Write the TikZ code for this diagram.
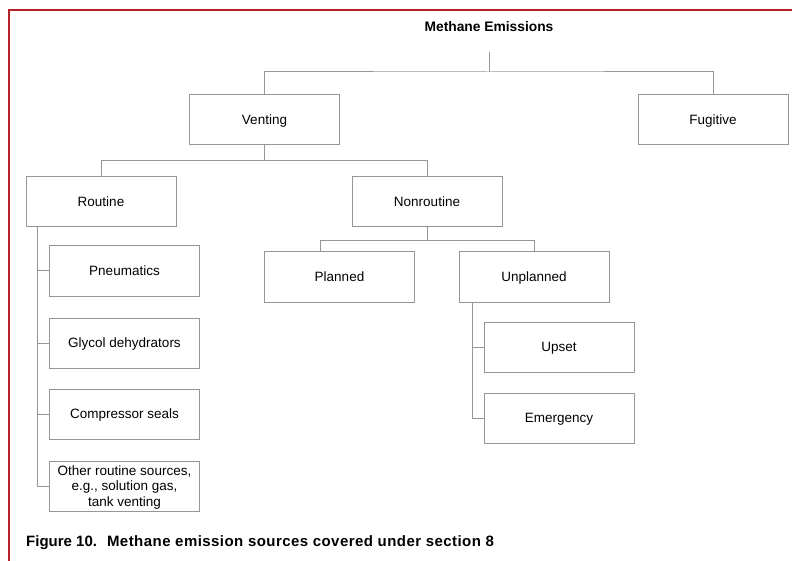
\documentclass[tikz,border=0pt]{standalone}
\usepackage{fontspec}
\setmainfont{Liberation Sans}
\newfontfamily\capfont[LetterSpace=3]{Liberation Sans}
\definecolor{framered}{RGB}{178,34,40}
\definecolor{boxgrey}{RGB}{150,150,150}

\tikzstyle{every node}=[font={\fontsize{13.5}{15.5}\selectfont}, inner sep=2pt]
\tikzstyle{box}=[draw=boxgrey, line width=1pt, minimum width=150pt, minimum height=50pt, align=center, text height=9.7pt, text depth=0pt]
\tikzstyle{tallbox}=[box, text height=, text depth=0pt]
\tikzstyle{link}=[draw=boxgrey, line width=1pt]
\tikzstyle{heading}=[font={\fontsize{13.8}{16}\selectfont\bfseries}]

\begin{document}
\begin{tikzpicture}[x=1pt, y=-1pt]
    \useasboundingbox (0,0) rectangle (792,561);
    \draw [framered, line width=2pt] (9,561) -- (9,10) -- (792,10);

    \node [heading] (ch4) at (489,27) {Methane Emissions};
    \coordinate (ch4b) at (489,52);

    \node [box] (venting) at (264.5,120) {Venting};
    \node [box] (fugitive) at (713,120) {Fugitive};
    \node [box] (routine) at (101,202) {Routine};
    \node [box] (nonroutine) at (427,202) {Nonroutine};
    \node [box] (planned) at (339.5,277) {Planned};
    \node [box] (unplanned) at (534,277) {Unplanned};

    \node [box] (pneumatics) at (124.5,271) {Pneumatics};
    \node [box] (glycol) at (124.5,343) {Glycol dehydrators};
    \node [box] (compressor) at (124.5,414) {Compressor seals};
    \node [tallbox] (other) at (124.5,486) {Other routine sources,\\e.g., solution gas,\\tank venting};

    \node [box] (upset) at (559,347) {Upset};
    \node [box] (emergency) at (559,418) {Emergency};

    % top level
    \draw [link] (ch4b) -- ++(0,20) coordinate (j0);
    \draw [link] (venting.north) |- (j0) -| (fugitive.north);

    % venting
    \draw [link] (venting.south) -- ++(0,15) coordinate (j1);
    \draw [link] (routine.north) |- (j1) -| (nonroutine.north);

    % nonroutine
    \draw [link] (nonroutine.south) -- ++(0,13) coordinate (j2);
    \draw [link] ([xshift=-19.5pt]planned.north) |- (j2) -| (unplanned.north);

    % routine sources
    \coordinate (rt) at ([xshift=12pt]routine.south west);
    \draw [link] (rt) |- (other.west);
    \foreach \n in {pneumatics,glycol,compressor}
        \draw [link] (\n.west) -- (\n.west -| rt);

    % unplanned
    \coordinate (ut) at ([xshift=14pt]unplanned.south west);
    \draw [link] (ut) |- (emergency.west);
    \draw [link] (upset.west) -- (upset.west -| ut);

    \node [heading, font={\fontsize{15}{17}\selectfont\bfseries}, anchor=west, inner sep=0pt] (caption) at (26,543) {Figure 10.\hspace{10pt}{\capfont\bfseries Methane emission sources covered under section 8}};
\end{tikzpicture}
\end{document}
